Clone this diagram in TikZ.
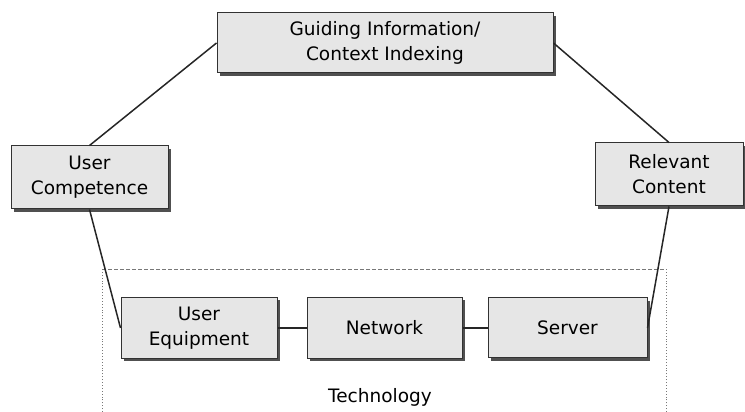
\documentclass[tikz,border=0pt]{standalone}
\usepackage{fontspec}
\setmainfont{DejaVu Sans}
\usepackage{tikz}
\usetikzlibrary{shadows}
\definecolor{boxfill}{RGB}{230,230,230}
\definecolor{boxline}{RGB}{50,50,50}
\definecolor{boxshadow}{RGB}{80,80,80}
\definecolor{framegray}{RGB}{120,120,120}
\tikzset{
  partbox/.style={draw=boxline,fill=boxfill,line width=1pt,align=center,
    inner sep=0pt,font=\fontsize{18.5}{25}\selectfont,
    drop shadow={shadow xshift=3pt,shadow yshift=-3pt,fill=boxshadow,opacity=1}},
  link/.style={draw=black!85,line width=1.5pt},
}
\begin{document}
\begin{tikzpicture}[x=1pt,y=1pt]
\useasboundingbox (0,0) rectangle (745,412);
% technology frame, open at the bottom
\draw[framegray,dash pattern=on 4pt off 2pt,line width=0.7pt] (102,143) -- (666,143);
\draw[framegray,dotted,line width=0.9pt] (102,0) -- (102,143);
\draw[framegray,dotted,line width=0.9pt] (666,0) -- (666,143);
% boxes
\node[partbox,minimum width=336,minimum height=60] (guide) at (385,369) {Guiding Information/\\Context Indexing};
\node[partbox,minimum width=157,minimum height=63] (competence) at (89.5,234.5) {User\\Competence};
\node[partbox,minimum width=148,minimum height=63] (content) at (669,237.5) {Relevant\\Content};
\node[partbox,minimum width=156,minimum height=61] (equipment) at (199,84) {User\\Equipment};
\node[partbox,minimum width=155,minimum height=61] (network) at (384.5,84) {Network};
\node[partbox,minimum width=159,minimum height=60] (server) at (567.5,84) {Server};
\node[font=\fontsize{18.5}{25}\selectfont] (tech) at (380,15) {Technology};
% links
\draw[link] (guide.west) -- (competence.north);
\draw[link] (guide.east) -- (content.north);
\draw[link] (competence.south) -- (equipment.west);
\draw[link] (content.south) -- (server.east);
\draw[link] (equipment) -- (network);
\draw[link] (network) -- (server);
\end{tikzpicture}
\end{document}
